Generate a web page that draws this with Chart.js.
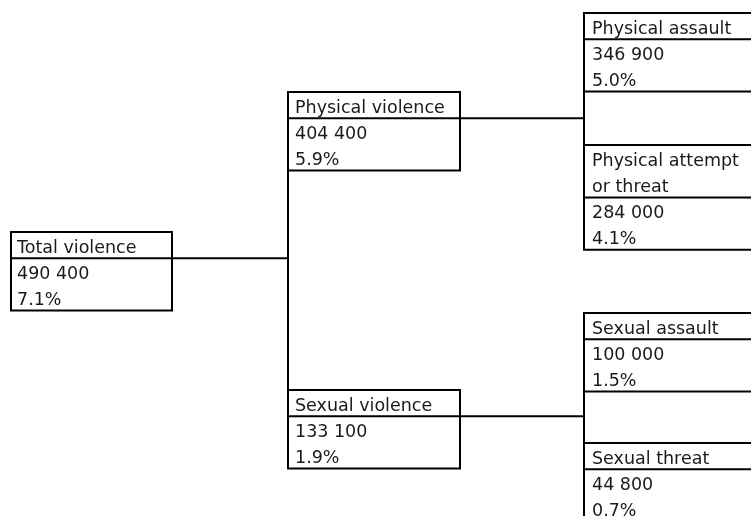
<!DOCTYPE html>
<html>
<head>
<meta charset="utf-8">
<script src="https://cdn.jsdelivr.net/npm/chart.js@4"></script>
<style>
  body { margin: 0; background: #fff }
  #wrap { width: 751px; height: 516px; position: relative }
</style>
</head>
<body>
<div id="wrap"><canvas id="tree"></canvas></div>
<script>
// tree data ('|' = line break inside a header)
const names = ['Total violence', 'Physical violence', 'Sexual violence', 'Physical assault', 'Physical attempt|or threat', 'Sexual assault', 'Sexual threat']
const counts = [490400, 404400, 133100, 346900, 284000, 100000, 44800]
const percents = [7.1, 5.9, 1.9, 5.0, 4.1, 1.5, 0.7]
const parents = [null, 0, 0, 1, 1, 2, 2]

// layout, in axis units (axes are 0..751 x 0..516)
const levels = [0, 1, 1, 2, 2, 2, 2]
const colLeft = [11, 288, 584]
const colRight = [172, 460, 758]
const boxTop = [232, 92, 390, 13, 145, 313, 443]
const rowH = 26.2
const textPad = [6, 7, 8]

const fmtCount = n => String(n).replace(/\B(?=(\d{3})+(?!\d))/g, ' ')

const boxOf = i => {
  let lvl = levels[i]
  let head = names[i].split('|').length
  let top = boxTop[i]
  let divider = top + head * rowH
  return { x0: colLeft[lvl], x1: colRight[lvl], top, divider, bottom: divider + 2 * rowH }
}

const lineSet = pts => ({
  data: pts,
  showLine: true,
  pointRadius: 0,
  borderColor: '#000',
  borderWidth: 2,
  borderJoinStyle: 'miter',
  borderCapStyle: 'square',
  tension: 0,
  clip: false
})

let datasets = []

// boxes: outline + divider under the header
names.forEach((n, i) => {
  let b = boxOf(i)
  datasets.push(lineSet([
    { x: b.x0, y: b.top }, { x: b.x1, y: b.top }, { x: b.x1, y: b.bottom },
    { x: b.x0, y: b.bottom }, { x: b.x0, y: b.top }
  ]))
  datasets.push(lineSet([{ x: b.x0, y: b.divider }, { x: b.x1, y: b.divider }]))
})

// connectors parent -> children
names.forEach((n, i) => {
  let kids = parents.map((p, k) => p === i ? k : -1).filter(k => k >= 0)
  if (!kids.length) return
  let b = boxOf(i)
  let cx = colLeft[levels[i] + 1]
  datasets.push(lineSet([{ x: b.x1, y: b.divider }, { x: cx, y: b.divider }]))
  let first = boxOf(kids[0])
  let last = boxOf(kids[kids.length - 1])
  datasets.push(lineSet([{ x: cx, y: first.bottom }, { x: cx, y: last.top }]))
})

const boxText = {
  id: 'boxText',
  afterDatasetsDraw(chart) {
    const ctx = chart.ctx
    const xs = chart.scales.x
    const ys = chart.scales.y
    ctx.save()
    ctx.font = '17.5px "DejaVu Sans"'
    ctx.fillStyle = '#1a1a1a'
    ctx.textBaseline = 'alphabetic'
    names.forEach((n, i) => {
      let b = boxOf(i)
      let lines = n.split('|').concat([fmtCount(counts[i]), percents[i].toFixed(1) + '%'])
      lines.forEach((t, k) => {
        let px = xs.getPixelForValue(b.x0 + textPad[levels[i]])
        let py = ys.getPixelForValue(b.top + k * rowH + 20.5)
        ctx.fillText(t, px, py)
      })
    })
    ctx.restore()
  }
}

const ctx = document.getElementById('tree').getContext('2d')
const chart = new Chart(ctx, {
  type: 'scatter',
  data: { datasets },
  options: {
    responsive: true,
    maintainAspectRatio: false,
    animation: false,
    events: [],
    layout: { padding: 0 },
    plugins: { legend: false, tooltip: { enabled: false } },
    scales: {
      x: { type: 'linear', min: 0, max: 751, display: false },
      y: { type: 'linear', min: 0, max: 516, reverse: true, display: false }
    }
  },
  plugins: [boxText]
})
</script>
</body>
</html>
